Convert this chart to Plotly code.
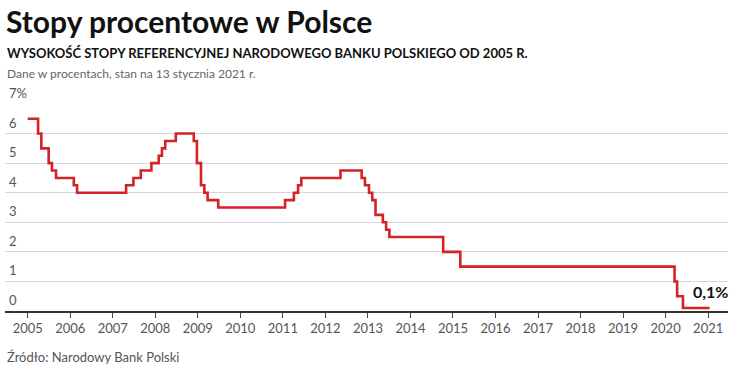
import plotly.graph_objects as go

dates = ["2005-01-01", "2005-03-31", "2005-04-28", "2005-06-30", "2005-07-28", "2005-09-01",
         "2006-02-01", "2006-03-01", "2007-04-26", "2007-06-28", "2007-08-30", "2007-11-29",
         "2008-01-31", "2008-02-28", "2008-03-27", "2008-06-26", "2008-11-27", "2008-12-24",
         "2009-01-28", "2009-02-26", "2009-03-26", "2009-06-25", "2011-01-20", "2011-04-06",
         "2011-05-12", "2011-06-09", "2012-05-10", "2012-11-08", "2012-12-06", "2013-01-10",
         "2013-02-07", "2013-03-07", "2013-05-09", "2013-06-06", "2013-07-04", "2014-10-09",
         "2015-03-05", "2020-03-18", "2020-04-09", "2020-05-29", "2021-01-13"]
rates = [6.5, 6.0, 5.5, 5.0, 4.75, 4.5,
         4.25, 4.0, 4.25, 4.5, 4.75, 5.0,
         5.25, 5.5, 5.75, 6.0, 5.75, 5.0,
         4.25, 4.0, 3.75, 3.5, 3.75, 4.0,
         4.25, 4.5, 4.75, 4.5, 4.25, 4.0,
         3.75, 3.25, 3.0, 2.75, 2.5, 2.0,
         1.5, 1.0, 0.5, 0.1, 0.1]
year_ticks = [str(y) for y in range(2005, 2022)]
y_ticks = [0, 1, 2, 3, 4, 5, 6, 7]
y_labels = ["0", "1", "2", "3", "4", "5", "6", "7%"]

FONT = "Lato"
ML, MR, MT, MB = 5, 9, 104, 61
W, H = 737, 372

fig = go.Figure()
fig.add_trace(go.Scatter(x=dates, y=rates, mode="lines",
                         line=dict(color="#d42228", width=2.6, shape="hv"),
                         hoverinfo="skip", showlegend=False))

fig.update_layout(
    width=W, height=H,
    margin=dict(l=ML, r=MR, t=MT, b=MB),
    paper_bgcolor="white", plot_bgcolor="white",
    font=dict(family=FONT, color="#555"),
    xaxis=dict(type="date", range=["2004-06-20", "2021-06-20"],
               tickvals=[f"{y}-01-01" for y in year_ticks], ticktext=year_ticks,
               ticks="outside", ticklen=5, tickcolor="#444", tickwidth=1,
               showline=True, linecolor="#333", linewidth=1.5, showgrid=False,
               tickfont=dict(size=13, color="#555", family=FONT), zeroline=False),
    yaxis=dict(range=[0, 7], tickvals=y_ticks, showticklabels=False, showgrid=True,
               gridcolor="#d6d6d6", gridwidth=1, zeroline=False, showline=False),
)

for v, lab in zip(y_ticks, y_labels):
    fig.add_annotation(x=0, xref="paper", y=v, yref="y", text=lab, showarrow=False,
                       xanchor="left", yanchor="bottom", yshift=1, xshift=2,
                       font=dict(size=13, color="#555", family=FONT))

fig.add_annotation(x=dates[-1], y=rates[-1], xref="x", yref="y", text="<b>0,1%</b>", showarrow=False,
                   xanchor="center", yanchor="bottom", yshift=5, xshift=1,
                   font=dict(size=16, color="#111", family=FONT))


def py(p):
    return 1 - (p - MT) / (H - MT - MB)


def px(p):
    return (p - ML) / (W - ML - MR)


fig.add_annotation(x=px(4), y=py(21), xref="paper", yref="paper", text="<b>Stopy procentowe w Polsce</b>",
                   showarrow=False, xanchor="left", yanchor="middle",
                   font=dict(size=30, color="#111", family=FONT))
fig.add_annotation(x=px(5), y=py(53), xref="paper", yref="paper",
                   text="<b>WYSOKOŚĆ STOPY REFERENCYJNEJ NARODOWEGO BANKU POLSKIEGO OD 2005 R.</b>",
                   showarrow=False, xanchor="left", yanchor="middle",
                   font=dict(size=13, color="#111", family=FONT))
fig.add_annotation(x=px(5), y=py(73), xref="paper", yref="paper",
                   text="Dane w procentach, stan na 13 stycznia 2021 r.",
                   showarrow=False, xanchor="left", yanchor="middle",
                   font=dict(size=12, color="#666", family=FONT))
fig.add_annotation(x=px(5), y=py(357), xref="paper", yref="paper",
                   text="Źródło: Narodowy Bank Polski",
                   showarrow=False, xanchor="left", yanchor="middle",
                   font=dict(size=13, color="#555", family=FONT))

fig.write_html("out.html")
